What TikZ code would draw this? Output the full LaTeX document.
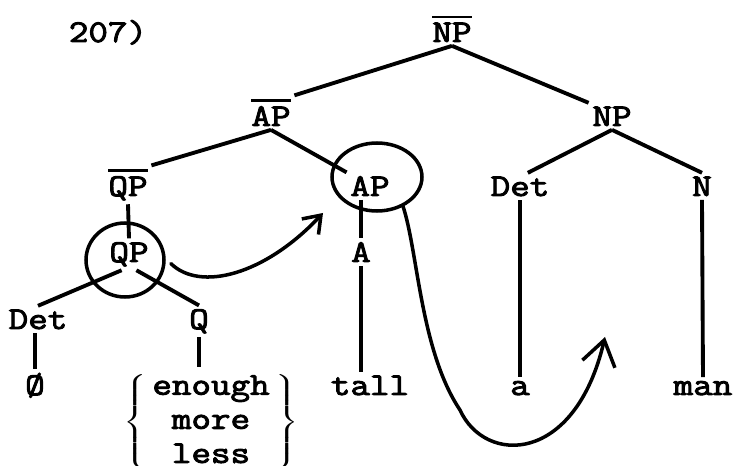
\documentclass[tikz,border=0pt]{standalone}
\usepackage{fontspec}
\usepackage{graphicx}
\setmainfont{Latin Modern Mono}[FakeBold=3, FakeStretch=1.2]
\usetikzlibrary{arrows.meta,shapes.geometric}
\newcommand{\barred}[1]{\vbox{\hrule height 1.6pt\kern 2.4pt\hbox{#1}}}
\newcommand{\qwordtab}{\begin{tabular}{@{}c@{}}enough\\more\\less\end{tabular}}
\newcommand{\qchoice}{$\scalebox{1.5}[1]{$\left\{\vphantom{\vcenter{\hbox{\qwordtab}}}\right.$}\hspace{1.5pt}\vcenter{\hbox{\qwordtab}}\hspace{1.5pt}\scalebox{1.5}[1]{$\left.\vphantom{\vcenter{\hbox{\qwordtab}}}\right\}$}$}

\begin{document}
\begin{tikzpicture}[
    x=0.02cm, y=-0.02cm,
    font=\fontsize{18}{19.4}\selectfont,
    lbl/.style={inner sep=2pt, anchor=base},
    branch/.style={line width=2.2pt},
    ring/.style={draw, ellipse, line width=2pt, inner sep=0pt},
    curvy/.style={line width=2pt, line cap=round}
]
    \useasboundingbox (0,0) rectangle (735,466);

    % tree labels
    \node[lbl] (num) at (108,42) {207)};
    \node[lbl] (npbar) at (452,42) {\barred{NP}};
    \node[lbl] (apbar) at (271,126) {\barred{AP}};
    \node[lbl] (np) at (612,126) {NP};
    \node[lbl] (qpbar) at (128,196) {\barred{QP}};
    \node[lbl] (ap) at (370,196) {AP};
    \node[lbl] (det) at (520,196) {Det};
    \node[lbl] (n) at (702,196) {N};
    \node[lbl] (qp) at (129,262) {QP};
    \node[lbl] (a) at (361,262) {A};
    \node[lbl] (detq) at (38,329) {Det};
    \node[lbl] (q) at (199,329) {Q};
    \node[lbl] (zero) at (35,395) {Ø};
    \node[lbl] (tall) at (370,395) {tall};
    \node[lbl] (adet) at (520,395) {a};
    \node[lbl] (man) at (703,395) {man};
    \node[inner sep=2pt, anchor=north] (qwords) at (211,367) {\qchoice};

    % circled nodes
    \node[ring, minimum width=1.56cm, minimum height=1.48cm] (qpring) at (125,260) {};
    \node[ring, minimum width=1.8cm, minimum height=1.36cm] (apring) at (377,177) {};

    % branches
    \draw[branch] (npbar.south) -- (apbar.north east);
    \draw[branch] (npbar.south) -- (np.north west);
    \draw[branch] (apbar.south) -- (qpbar.north east);
    \draw[branch] (apbar.south) -- (ap.north west);
    \draw[branch] (np.south) -- (det.60);
    \draw[branch] (np.south) -- (n.north);
    \draw[branch] (qpbar.south) -- (qp.north);
    \draw[branch] (qp.-115) -- (detq.north);
    \draw[branch] (qp.-65) -- (q.north);
    \draw[branch] (detq.south -| zero.north) -- (zero.north);
    \draw[branch] (q.south) -- (q.south |- qwords.north);
    \draw[branch] (ap.south -| a.north) -- (a.north);
    \draw[branch] (a.south) -- (a.south |- tall.north);
    \draw[branch] (det.south) -- (adet.north);
    \draw[branch] (n.south) -- (man.north);

    % movement arrows
    \coordinate (tipa) at (323,213);
    \coordinate (tipb) at (605,337);
    \draw[curvy, -{Straight Barb[length=9pt,width=13pt]}] ([xshift=3pt]qpring.-5)
        .. controls (200,292) and (265,275) .. (tipa);
    \draw[curvy, -{Straight Barb[length=14pt,width=19pt]}] ([shift={(2pt,2pt)}]apring.-55)
        .. controls (418,250) and (420,350) .. (460,410)
        .. controls (485,465) and (575,465) .. (tipb);
\end{tikzpicture}
\end{document}
